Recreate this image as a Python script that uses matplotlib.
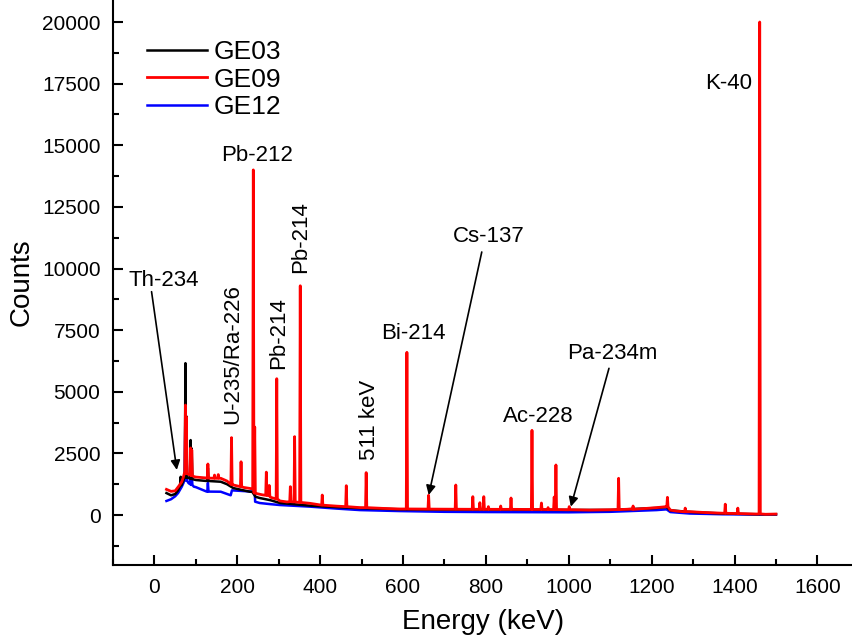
import matplotlib
matplotlib.use("Agg")
import numpy as np
import matplotlib.pyplot as plt
from matplotlib.ticker import MultipleLocator

plt.rcParams['font.family'] = ['Liberation Sans', 'DejaVu Sans']

# --- GE09 (red): continuum points and peaks (energy keV, base counts, top counts)
ge09_cont_e = [29, 40, 50, 60, 66, 70, 72, 82, 95, 100, 126, 140, 160, 175, 190, 200,
               215, 230, 236, 244, 260, 280, 303, 320, 375, 440, 496, 550, 592, 700,
               800, 900, 1000, 1050, 1100, 1150, 1212, 1236, 1245, 1260, 1292, 1330,
               1372, 1420, 1453, 1475, 1500]
ge09_cont_c = [1040, 960, 980, 1200, 1350, 1550, 1680, 1650, 1560, 1540, 1500, 1490,
               1490, 1380, 1220, 1180, 1120, 1080, 1060, 880, 820, 720, 570, 530, 475,
               360, 300, 270, 245, 235, 231, 226, 215, 200, 215, 240, 300, 340, 200,
               160, 135, 100, 70, 55, 40, 30, 40]
ge09_peak_e = [74.8, 77.1, 87.3, 90.0, 129, 145, 154, 186, 209, 238.6, 242.0, 270, 277,
               295.2, 328, 338.3, 351.9, 405, 463, 511, 609.3, 661.7, 727.3, 768.4,
               785.4, 794.9, 806, 835.7, 860.6, 911.2, 934, 950, 964.8, 969, 1001,
               1120.3, 1155.2, 1238.1, 1281, 1377.7, 1408, 1460.8]
ge09_peak_base = [1680, 1680, 1620, 1600, 1500, 1490, 1490, 1240, 1150, 1060, 890, 800,
                  780, 650, 540, 530, 510, 400, 340, 300, 245, 240, 235, 232, 232, 231,
                  231, 230, 230, 225, 225, 222, 220, 220, 215, 220, 230, 335, 130, 70,
                  60, 45]
ge09_peak_top = [4460, 3980, 2720, 2640, 2070, 1620, 1640, 3140, 2160, 14000, 3570, 1740,
                 1200, 5530, 1150, 3180, 9300, 810, 1190, 1720, 6600, 800, 1217, 745,
                 500, 745, 340, 365, 690, 3435, 487, 300, 730, 2030, 340, 1490, 365,
                 718, 280, 440, 280, 20000]

# --- GE03 (black)
ge03_cont_e = [29, 40, 50, 57, 61, 66, 70, 72, 82, 95, 100, 126, 160, 175, 190, 215,
               230, 236, 244, 254, 280, 303, 375, 440, 496, 592, 700, 800, 900, 1000,
               1100, 1212, 1236, 1245, 1292, 1372, 1453, 1500]
ge03_cont_c = [890, 800, 850, 1000, 1150, 1250, 1400, 1520, 1500, 1440, 1420, 1380,
               1350, 1250, 1095, 1000, 945, 940, 740, 690, 600, 487, 380, 320, 280,
               230, 220, 220, 215, 205, 205, 285, 325, 190, 125, 60, 30, 30]
ge03_peak_e = [63.3, 74.8, 77.1, 87.3, 90.0, 129]
ge03_peak_base = [1200, 1520, 1520, 1480, 1460, 1380]
ge03_peak_top = [1550, 6160, 4000, 3040, 2700, 1900]

# --- GE12 (blue)
ge12_cont_e = [29, 40, 50, 57, 66, 70, 73, 82, 95, 100, 126, 160, 184, 187, 236, 243,
               254, 280, 303, 375, 440, 496, 592, 700, 800, 1000, 1100, 1212, 1236,
               1245, 1292, 1372, 1453, 1500]
ge12_cont_c = [570, 640, 760, 890, 1150, 1300, 1450, 1300, 1150, 1130, 950, 945, 800,
               1000, 950, 540, 487, 440, 405, 340, 260, 200, 160, 130, 120, 110, 130,
               200, 230, 120, 60, 30, 20, 20]
ge12_peak_e = [74.3, 77.1, 87.3, 90.0, 129, 240.6]
ge12_peak_base = [1450, 1400, 1250, 1220, 950, 950]
ge12_peak_top = [3580, 3000, 1800, 1700, 1300, 2300]

PEAK_HW = 1.5  # half width of a drawn peak, keV


def build_trace(cont_e, cont_c, peak_e, peak_base, peak_top):
    """Merge continuum points and peak spikes into one sorted polyline."""
    pts = list(zip(cont_e, cont_c))
    for e, b, t in zip(peak_e, peak_base, peak_top):
        pts += [(e - PEAK_HW, b), (e, t), (e + PEAK_HW, b)]
    pts.sort(key=lambda p: p[0])
    arr = np.array(pts, dtype=float)
    return arr[:, 0], arr[:, 1]


fig = plt.figure(figsize=(8.53, 6.39), dpi=100)
ax = fig.add_axes([0.1325, 0.1158, 0.8675, 0.8842])

x03, y03 = build_trace(ge03_cont_e, ge03_cont_c, ge03_peak_e, ge03_peak_base, ge03_peak_top)
x09, y09 = build_trace(ge09_cont_e, ge09_cont_c, ge09_peak_e, ge09_peak_base, ge09_peak_top)
x12, y12 = build_trace(ge12_cont_e, ge12_cont_c, ge12_peak_e, ge12_peak_base, ge12_peak_top)

l12, = ax.plot(x12, y12, color='#0000ff', lw=1.8, label='GE12', zorder=2)
l03, = ax.plot(x03, y03, color='black', lw=1.8, label='GE03', zorder=3)
l09, = ax.plot(x09, y09, color='#ff0000', lw=2.0, label='GE09', zorder=4)

ax.set_xlim(-100, 1686)
ax.set_ylim(-2028, 20893)

for side in ['top', 'right']:
    ax.spines[side].set_visible(False)
for side in ['left', 'bottom']:
    ax.spines[side].set_linewidth(1.5)

ax.xaxis.set_major_locator(MultipleLocator(200))
ax.xaxis.set_minor_locator(MultipleLocator(100))
ax.yaxis.set_major_locator(MultipleLocator(2500))
ax.yaxis.set_minor_locator(MultipleLocator(1250))
ax.tick_params(which='both', direction='in', width=1.5, labelsize=15, pad=9)
ax.tick_params(which='major', length=7)
ax.tick_params(which='minor', length=4)
ax.set_xticks(np.arange(0, 1601, 200))

ax.set_xlabel('Energy (keV)', fontsize=20, labelpad=9)
ax.set_ylabel('Counts', fontsize=20, labelpad=5)

ax.legend(handles=[l03, l09, l12], loc='upper left',
          bbox_to_anchor=(147 / 853, 1 - 40 / 639), bbox_transform=fig.transFigure,
          frameon=False, fontsize=19, handlelength=2.26, handletextpad=0.26,
          labelspacing=0.14, borderpad=0, borderaxespad=0)

# nuclide labels
fs = 16
ax.text(248, 14600, 'Pb-212', fontsize=fs, ha='center', va='center')
ax.text(190, 6530, 'U-235/Ra-226', fontsize=fs, ha='center', va='center', rotation=90)
ax.text(300, 7380, 'Pb-214', fontsize=fs, ha='center', va='center', rotation=90)
ax.text(354, 11290, 'Pb-214', fontsize=fs, ha='center', va='center', rotation=90)
ax.text(520, 3850, '511 keV', fontsize=fs, ha='center', va='center', rotation=90)
ax.text(624, 7380, 'Bi-214', fontsize=fs, ha='center', va='center')
ax.text(926, 3990, 'Ac-228', fontsize=fs, ha='center', va='center')
ax.text(1386, 17525, 'K-40', fontsize=fs, ha='center', va='center')
ax.text(22, 9530, 'Th-234', fontsize=fs, ha='center', va='center')
ax.text(807, 11280, 'Cs-137', fontsize=fs, ha='center', va='center')
ax.text(1105, 6560, 'Pa-234m', fontsize=fs, ha='center', va='center')

arrow = dict(arrowstyle='-|>', color='black', lw=1.2, mutation_scale=14,
             shrinkA=0, shrinkB=0)
ax.annotate('', xy=(54, 1830), xytext=(-7, 9060), arrowprops=arrow, zorder=5)
ax.annotate('', xy=(662, 810), xytext=(790, 10670), arrowprops=arrow, zorder=5)
ax.annotate('', xy=(1005, 340), xytext=(1097, 5950), arrowprops=arrow, zorder=5)

fig.savefig('out.png', dpi=100)
